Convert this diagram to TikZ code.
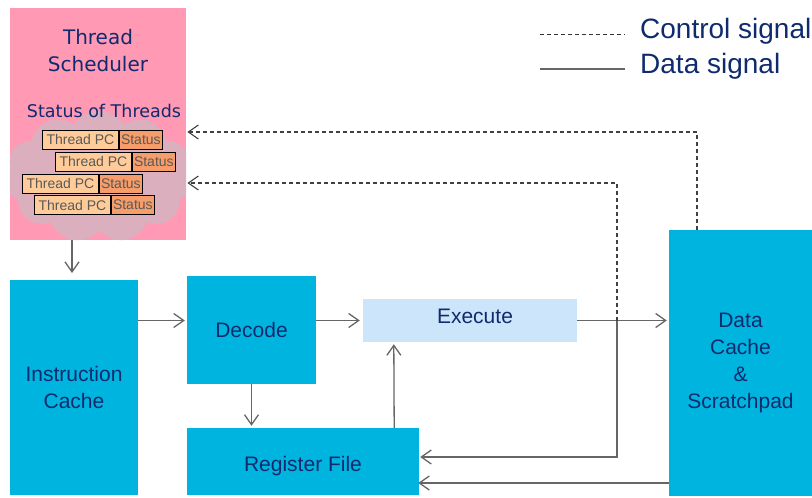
\documentclass[tikz,border=0pt]{standalone}
\usepackage{fontspec}
\setmainfont{Liberation Sans}
\newfontfamily\schedfont{DejaVu Sans}
\usetikzlibrary{calc}
\usetikzlibrary{positioning}
\usetikzlibrary{arrows.meta}
\usetikzlibrary{shapes.symbols}

\definecolor{blockblue}{HTML}{00B4E0}
\definecolor{execblue}{HTML}{CCE5FA}
\definecolor{schedpink}{HTML}{FF99B4}
\definecolor{cloudpink}{HTML}{DCAFBF}
\definecolor{pcorange}{HTML}{FFCC99}
\definecolor{statorange}{HTML}{F79D69}
\definecolor{navy}{HTML}{0F2B6E}
\definecolor{wiregray}{HTML}{666666}

\tikzset{
  block/.style={fill=blockblue, text=navy, inner sep=0pt, align=center,
    font=\fontsize{21}{27}\selectfont},
  pcbox/.style={draw=black, line width=0.9pt, fill=pcorange, text=black!65,
    minimum width=76pt, minimum height=19pt, inner sep=0pt, anchor=west,
    font=\fontsize{14}{14}\selectfont},
  statbox/.style={pcbox, fill=statorange, minimum width=43pt},
  data/.style={draw=wiregray, line width=1.3pt,
    -{Straight Barb[length=10pt, width=14pt, line width=1.3pt]}},
  ctrl/.style={draw=black!75, line width=1.1pt, dash pattern=on 4pt off 3pt,
    -{Straight Barb[length=10pt, width=14pt, line width=1.1pt, sep]}},
  legend/.style={text=navy, anchor=west, inner sep=0pt,
    font=\fontsize{28}{28}\selectfont},
}

\begin{document}
\begin{tikzpicture}[x=1pt, y=-1pt]
    \useasboundingbox (0, 0) rectangle (812, 498);

    % thread scheduler
    \node[fill=schedpink, minimum width=176pt, minimum height=232pt, inner sep=0pt] (sched) at (98, 124) {};
    \begin{scope}
    \clip (sched.south west) rectangle (sched.north east);
    \node[cloud, cloud puffs=11, cloud puff arc=115, aspect=1.5, fill=cloudpink,
      minimum width=188pt, minimum height=132pt, inner sep=0pt] (threadcloud) at (99, 176.5) {};
    \end{scope}
    \node[text=navy, align=center, font=\schedfont\fontsize{20}{27}\selectfont] (schedtitle) at (98, 51) {Thread\\Scheduler};
    \node[text=navy, font=\schedfont\fontsize{17.5}{18}\selectfont] (statustitle) at (104, 111) {Status of Threads};

    % thread status rows
    \foreach \x / \y / \n in {42 / 139.5 / 1, 55 / 161.5 / 2, 22 / 183.5 / 3, 34 / 205 / 4}
    {
      \node[pcbox] (pc\n) at (\x, \y) {Thread PC};
      \node[statbox] (st\n) at (pc\n.east) {Status};
    }

    % pipeline blocks
    \node[block, minimum width=128pt, minimum height=215pt] (icache) at (74, 387.5) {Instruction\\Cache};
    \node[block, minimum width=129pt, minimum height=108pt] (decode) at (251.5, 330) {Decode};
    \node[block, fill=execblue, minimum width=214pt, minimum height=43pt,
      text height=15pt, text depth=10pt] (execute) at (470, 320.5) {\hspace{10pt}Execute};
    \node[block, minimum width=232pt, minimum height=67pt,
      text height=25pt, text depth=5pt] (regfile) at (303, 461.5) {Register File};
    \node[block, minimum width=143pt, minimum height=266pt] (dcache) at (740.5, 363) {Data\\Cache\\\&\\Scratchpad};

    % junctions
    \coordinate (split) at (617, 320.5);
    \coordinate (wbtop) at (617, 457);
    \coordinate (wbbot) at (669, 483);
    \coordinate (ctrltop) at (697, 132);
    \coordinate (ctrlmid) at (617, 183);

    % data signals
    \draw[data] (sched.south -| 72, 0) -- (72, 273);
    \draw[data] (icache.east |- execute) -- ([xshift=-2pt]decode.west |- execute);
    \draw[data] (decode.east |- execute) -- ([xshift=-3pt]execute.west);
    \draw[data] (decode.south) -- ([yshift=2pt]decode.south |- regfile.north);
    \draw[data] ($(regfile.north east)+(-25, 0)$) -- ($(execute.south west)+(31, 2)$);
    \draw[data] (execute.east) -- ([xshift=-2pt]dcache.west |- execute);
    \draw[data] (split) |- ([xshift=1pt]regfile.east |- wbtop);
    \draw[data] (wbbot) -- ([xshift=-1pt]regfile.east |- wbbot);

    % control signals
    \draw[ctrl] (split) -- (ctrlmid) -- (sched.east |- ctrlmid);
    \draw[ctrl] (dcache.north -| ctrltop) -- (ctrltop) -- (sched.east |- ctrltop);

    % legend
    \node[legend] (ctrltext) at (640, 31) {Control signal};
    \node[legend] (datatext) at (640, 66) {Data signal};
    \coordinate (ctrlstart) at (540, 34);
    \coordinate (datastart) at (540, 69);
    \draw[draw=black!80, line width=1pt, dash pattern=on 4pt off 3pt] (ctrlstart) -- (ctrlstart -| 625, 0);
    \draw[draw=wiregray, line width=1.2pt] (datastart) -- (datastart -| 625, 0);
\end{tikzpicture}
\end{document}
